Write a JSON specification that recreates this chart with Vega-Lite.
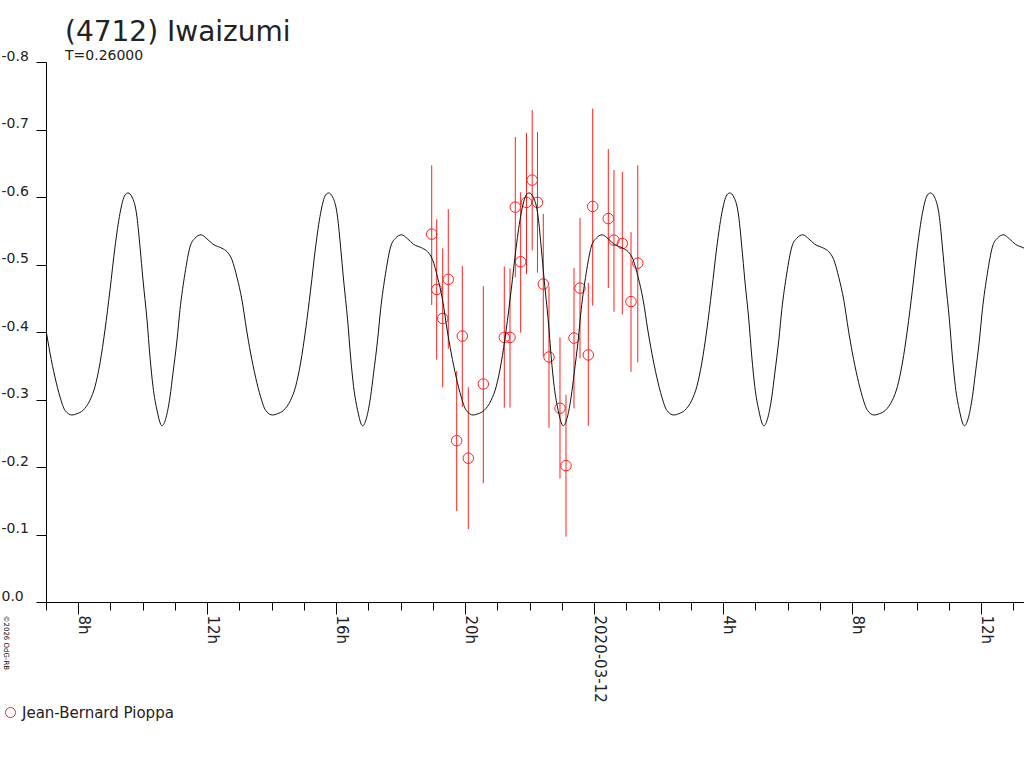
{
  "$schema": "https://vega.github.io/schema/vega-lite/v6.json",
  "width": 978,
  "height": 540,
  "autosize": {"type": "none"},
  "padding": {"left": 46, "top": 62, "right": 0, "bottom": 166},
  "background": "white",
  "config": {"view": {"stroke": null}, "font": "DejaVu Sans"},
  "title": {
    "text": "(4712) Iwaizumi",
    "subtitle": "T=0.26000",
    "anchor": "start",
    "frame": "group",
    "dx": 19,
    "offset": -14,
    "font": "DejaVu Sans",
    "fontSize": 28,
    "fontWeight": "normal",
    "color": "#222222",
    "subtitleFont": "DejaVu Sans",
    "subtitleFontSize": 14,
    "subtitleColor": "#222222",
    "subtitlePadding": 2
  },
  "datasets": {
    "obs": [
      {"hour": 18.960, "mag": -0.545, "mag_hi": -0.647, "mag_lo": -0.440},
      {"hour": 19.115, "mag": -0.463, "mag_hi": -0.567, "mag_lo": -0.359},
      {"hour": 19.301, "mag": -0.420, "mag_hi": -0.524, "mag_lo": -0.318},
      {"hour": 19.474, "mag": -0.478, "mag_hi": -0.582, "mag_lo": -0.375},
      {"hour": 19.735, "mag": -0.239, "mag_hi": -0.342, "mag_lo": -0.135},
      {"hour": 19.909, "mag": -0.394, "mag_hi": -0.498, "mag_lo": -0.289},
      {"hour": 20.095, "mag": -0.213, "mag_hi": -0.318, "mag_lo": -0.108},
      {"hour": 20.560, "mag": -0.323, "mag_hi": -0.468, "mag_lo": -0.176},
      {"hour": 21.211, "mag": -0.392, "mag_hi": -0.497, "mag_lo": -0.288},
      {"hour": 21.388, "mag": -0.392, "mag_hi": -0.494, "mag_lo": -0.288},
      {"hour": 21.552, "mag": -0.585, "mag_hi": -0.689, "mag_lo": -0.481},
      {"hour": 21.719, "mag": -0.504, "mag_hi": -0.607, "mag_lo": -0.399},
      {"hour": 21.899, "mag": -0.592, "mag_hi": -0.695, "mag_lo": -0.486},
      {"hour": 22.076, "mag": -0.625, "mag_hi": -0.729, "mag_lo": -0.521},
      {"hour": 22.240, "mag": -0.592, "mag_hi": -0.696, "mag_lo": -0.488},
      {"hour": 22.420, "mag": -0.471, "mag_hi": -0.575, "mag_lo": -0.364},
      {"hour": 22.597, "mag": -0.363, "mag_hi": -0.467, "mag_lo": -0.258},
      {"hour": 22.938, "mag": -0.287, "mag_hi": -0.392, "mag_lo": -0.183},
      {"hour": 23.124, "mag": -0.202, "mag_hi": -0.307, "mag_lo": -0.097},
      {"hour": 23.372, "mag": -0.391, "mag_hi": -0.495, "mag_lo": -0.287},
      {"hour": 23.558, "mag": -0.465, "mag_hi": -0.569, "mag_lo": -0.361},
      {"hour": 23.816, "mag": -0.366, "mag_hi": -0.473, "mag_lo": -0.261},
      {"hour": 23.952, "mag": -0.586, "mag_hi": -0.731, "mag_lo": -0.439},
      {"hour": 24.436, "mag": -0.568, "mag_hi": -0.671, "mag_lo": -0.465},
      {"hour": 24.612, "mag": -0.536, "mag_hi": -0.640, "mag_lo": -0.430},
      {"hour": 24.870, "mag": -0.531, "mag_hi": -0.637, "mag_lo": -0.426},
      {"hour": 25.140, "mag": -0.445, "mag_hi": -0.548, "mag_lo": -0.341},
      {"hour": 25.350, "mag": -0.502, "mag_hi": -0.647, "mag_lo": -0.355}
    ],
    "model": [
      {"hour": 7.000, "mag": -0.403}, {"hour": 7.124, "mag": -0.369}, {"hour": 7.279, "mag": -0.333}, {"hour": 7.434, "mag": -0.304},
      {"hour": 7.589, "mag": -0.284}, {"hour": 7.806, "mag": -0.277}, {"hour": 7.961, "mag": -0.279}, {"hour": 8.147, "mag": -0.284},
      {"hour": 8.364, "mag": -0.299}, {"hour": 8.519, "mag": -0.319}, {"hour": 8.674, "mag": -0.354}, {"hour": 8.829, "mag": -0.403},
      {"hour": 8.984, "mag": -0.462}, {"hour": 9.140, "mag": -0.526}, {"hour": 9.295, "mag": -0.576}, {"hour": 9.450, "mag": -0.603},
      {"hour": 9.543, "mag": -0.606}, {"hour": 9.667, "mag": -0.600}, {"hour": 9.822, "mag": -0.570}, {"hour": 9.915, "mag": -0.526},
      {"hour": 10.008, "mag": -0.477}, {"hour": 10.132, "mag": -0.418}, {"hour": 10.225, "mag": -0.363}, {"hour": 10.318, "mag": -0.319},
      {"hour": 10.442, "mag": -0.284}, {"hour": 10.597, "mag": -0.261}, {"hour": 10.721, "mag": -0.273}, {"hour": 10.845, "mag": -0.304},
      {"hour": 10.938, "mag": -0.339}, {"hour": 11.062, "mag": -0.388}, {"hour": 11.155, "mag": -0.433}, {"hour": 11.310, "mag": -0.487},
      {"hour": 11.465, "mag": -0.526}, {"hour": 11.620, "mag": -0.539}, {"hour": 11.806, "mag": -0.544}, {"hour": 11.992, "mag": -0.538},
      {"hour": 12.178, "mag": -0.530}, {"hour": 12.457, "mag": -0.524}, {"hour": 12.612, "mag": -0.519}, {"hour": 12.767, "mag": -0.507},
      {"hour": 12.922, "mag": -0.481}, {"hour": 13.078, "mag": -0.447},
      {"hour": 13.220, "mag": -0.403}, {"hour": 13.344, "mag": -0.369}, {"hour": 13.499, "mag": -0.333}, {"hour": 13.654, "mag": -0.304},
      {"hour": 13.809, "mag": -0.284}, {"hour": 14.026, "mag": -0.277}, {"hour": 14.181, "mag": -0.279}, {"hour": 14.367, "mag": -0.284},
      {"hour": 14.584, "mag": -0.299}, {"hour": 14.739, "mag": -0.319}, {"hour": 14.894, "mag": -0.354}, {"hour": 15.049, "mag": -0.403},
      {"hour": 15.204, "mag": -0.462}, {"hour": 15.360, "mag": -0.526}, {"hour": 15.515, "mag": -0.576}, {"hour": 15.670, "mag": -0.603},
      {"hour": 15.763, "mag": -0.606}, {"hour": 15.887, "mag": -0.600}, {"hour": 16.042, "mag": -0.570}, {"hour": 16.135, "mag": -0.526},
      {"hour": 16.228, "mag": -0.477}, {"hour": 16.352, "mag": -0.418}, {"hour": 16.445, "mag": -0.363}, {"hour": 16.538, "mag": -0.319},
      {"hour": 16.662, "mag": -0.284}, {"hour": 16.817, "mag": -0.261}, {"hour": 16.941, "mag": -0.273}, {"hour": 17.065, "mag": -0.304},
      {"hour": 17.158, "mag": -0.339}, {"hour": 17.282, "mag": -0.388}, {"hour": 17.375, "mag": -0.433}, {"hour": 17.530, "mag": -0.487},
      {"hour": 17.685, "mag": -0.526}, {"hour": 17.840, "mag": -0.539}, {"hour": 18.026, "mag": -0.544}, {"hour": 18.212, "mag": -0.538},
      {"hour": 18.398, "mag": -0.530}, {"hour": 18.677, "mag": -0.524}, {"hour": 18.832, "mag": -0.519}, {"hour": 18.987, "mag": -0.507},
      {"hour": 19.142, "mag": -0.481}, {"hour": 19.298, "mag": -0.447},
      {"hour": 19.440, "mag": -0.403}, {"hour": 19.564, "mag": -0.369}, {"hour": 19.719, "mag": -0.333}, {"hour": 19.874, "mag": -0.304},
      {"hour": 20.029, "mag": -0.284}, {"hour": 20.246, "mag": -0.277}, {"hour": 20.401, "mag": -0.279}, {"hour": 20.587, "mag": -0.284},
      {"hour": 20.804, "mag": -0.299}, {"hour": 20.959, "mag": -0.319}, {"hour": 21.114, "mag": -0.354}, {"hour": 21.269, "mag": -0.403},
      {"hour": 21.424, "mag": -0.462}, {"hour": 21.580, "mag": -0.526}, {"hour": 21.735, "mag": -0.576}, {"hour": 21.890, "mag": -0.603},
      {"hour": 21.983, "mag": -0.606}, {"hour": 22.107, "mag": -0.600}, {"hour": 22.262, "mag": -0.570}, {"hour": 22.355, "mag": -0.526},
      {"hour": 22.448, "mag": -0.477}, {"hour": 22.572, "mag": -0.418}, {"hour": 22.665, "mag": -0.363}, {"hour": 22.758, "mag": -0.319},
      {"hour": 22.882, "mag": -0.284}, {"hour": 23.037, "mag": -0.261}, {"hour": 23.161, "mag": -0.273}, {"hour": 23.285, "mag": -0.304},
      {"hour": 23.378, "mag": -0.339}, {"hour": 23.502, "mag": -0.388}, {"hour": 23.595, "mag": -0.433}, {"hour": 23.750, "mag": -0.487},
      {"hour": 23.905, "mag": -0.526}, {"hour": 24.060, "mag": -0.539}, {"hour": 24.246, "mag": -0.544}, {"hour": 24.432, "mag": -0.538},
      {"hour": 24.618, "mag": -0.530}, {"hour": 24.897, "mag": -0.524}, {"hour": 25.052, "mag": -0.519}, {"hour": 25.207, "mag": -0.507},
      {"hour": 25.362, "mag": -0.481}, {"hour": 25.518, "mag": -0.447},
      {"hour": 25.661, "mag": -0.403}, {"hour": 25.785, "mag": -0.369}, {"hour": 25.940, "mag": -0.333}, {"hour": 26.095, "mag": -0.304},
      {"hour": 26.250, "mag": -0.284}, {"hour": 26.467, "mag": -0.277}, {"hour": 26.622, "mag": -0.279}, {"hour": 26.808, "mag": -0.284},
      {"hour": 27.025, "mag": -0.299}, {"hour": 27.180, "mag": -0.319}, {"hour": 27.335, "mag": -0.354}, {"hour": 27.490, "mag": -0.403},
      {"hour": 27.645, "mag": -0.462}, {"hour": 27.801, "mag": -0.526}, {"hour": 27.956, "mag": -0.576}, {"hour": 28.111, "mag": -0.603},
      {"hour": 28.204, "mag": -0.606}, {"hour": 28.328, "mag": -0.600}, {"hour": 28.483, "mag": -0.570}, {"hour": 28.576, "mag": -0.526},
      {"hour": 28.669, "mag": -0.477}, {"hour": 28.793, "mag": -0.418}, {"hour": 28.886, "mag": -0.363}, {"hour": 28.979, "mag": -0.319},
      {"hour": 29.103, "mag": -0.284}, {"hour": 29.258, "mag": -0.261}, {"hour": 29.382, "mag": -0.273}, {"hour": 29.506, "mag": -0.304},
      {"hour": 29.599, "mag": -0.339}, {"hour": 29.723, "mag": -0.388}, {"hour": 29.816, "mag": -0.433}, {"hour": 29.971, "mag": -0.487},
      {"hour": 30.126, "mag": -0.526}, {"hour": 30.281, "mag": -0.539}, {"hour": 30.467, "mag": -0.544}, {"hour": 30.653, "mag": -0.538},
      {"hour": 30.839, "mag": -0.530}, {"hour": 31.118, "mag": -0.524}, {"hour": 31.273, "mag": -0.519}, {"hour": 31.428, "mag": -0.507},
      {"hour": 31.583, "mag": -0.481}, {"hour": 31.739, "mag": -0.447},
      {"hour": 31.881, "mag": -0.403}, {"hour": 32.005, "mag": -0.369}, {"hour": 32.160, "mag": -0.333}, {"hour": 32.315, "mag": -0.304},
      {"hour": 32.470, "mag": -0.284}, {"hour": 32.687, "mag": -0.277}, {"hour": 32.842, "mag": -0.279}, {"hour": 33.028, "mag": -0.284},
      {"hour": 33.245, "mag": -0.299}, {"hour": 33.400, "mag": -0.319}, {"hour": 33.555, "mag": -0.354}, {"hour": 33.710, "mag": -0.403},
      {"hour": 33.865, "mag": -0.462}, {"hour": 34.021, "mag": -0.526}, {"hour": 34.176, "mag": -0.576}, {"hour": 34.331, "mag": -0.603},
      {"hour": 34.424, "mag": -0.606}, {"hour": 34.548, "mag": -0.600}, {"hour": 34.703, "mag": -0.570}, {"hour": 34.796, "mag": -0.526},
      {"hour": 34.889, "mag": -0.477}, {"hour": 35.013, "mag": -0.418}, {"hour": 35.106, "mag": -0.363}, {"hour": 35.199, "mag": -0.319},
      {"hour": 35.323, "mag": -0.284}, {"hour": 35.478, "mag": -0.261}, {"hour": 35.602, "mag": -0.273}, {"hour": 35.726, "mag": -0.304},
      {"hour": 35.819, "mag": -0.339}, {"hour": 35.943, "mag": -0.388}, {"hour": 36.036, "mag": -0.433}, {"hour": 36.191, "mag": -0.487},
      {"hour": 36.346, "mag": -0.526}, {"hour": 36.501, "mag": -0.539}, {"hour": 36.687, "mag": -0.544}, {"hour": 36.873, "mag": -0.538},
      {"hour": 37.059, "mag": -0.530}, {"hour": 37.338, "mag": -0.524}, {"hour": 37.493, "mag": -0.519}
    ]
  },
  "encoding": {
    "x": {
      "field": "hour",
      "type": "quantitative",
      "title": null,
      "scale": {"domain": [7, 37.326], "nice": false, "zero": false},
      "axis": {
        "values": [7, 8, 9, 10, 11, 12, 13, 14, 15, 16, 17, 18, 19, 20, 21, 22, 23, 24, 25, 26, 27, 28, 29, 30, 31, 32, 33, 34, 35, 36, 37],
        "labelExpr": "datum.value % 24 == 0 ? '2020-03-12' : (datum.value % 4 == 0 ? (datum.value % 24) + 'h' : '')",
        "labelAngle": 90,
        "labelAlign": "left",
        "labelBaseline": "alphabetic",
        "labelFont": "DejaVu Sans",
        "labelFontSize": 15,
        "labelColor": "#222222",
        "labelPadding": 1,
        "labelOverlap": false,
        "labelFlush": false,
        "tickSize": {"condition": {"test": "datum.value % 4 == 0", "value": 12}, "value": 8},
        "tickColor": "#000000",
        "domainColor": "#000000",
        "grid": false
      }
    },
    "y": {
      "field": "mag",
      "type": "quantitative",
      "scale": {"domain": [0, -0.8], "nice": false, "zero": false},
      "axis": {
        "values": [-0.8, -0.7, -0.6, -0.5, -0.4, -0.3, -0.2, -0.1, 0],
        "labelExpr": "(datum.value < -0.001 ? '-' : '') + format(abs(datum.value), '.1f')",
        "labelAlign": "left",
        "labelBaseline": "alphabetic",
        "labelPadding": 35,
        "labelOffset": -2,
        "labelFont": "DejaVu Sans",
        "labelFontSize": 14,
        "labelColor": "#222222",
        "tickSize": 10,
        "tickColor": "#000000",
        "domainColor": "#000000",
        "grid": false,
        "title": "©2026 OdG-RB",
        "titleAngle": 90,
        "titleFont": "DejaVu Sans",
        "titleFontSize": 7,
        "titleFontWeight": "normal",
        "titleColor": "#000000",
        "titleAlign": "left",
        "titleBaseline": "middle",
        "titleX": -41,
        "titleY": 553
      }
    }
  },
  "layer": [
    {
      "data": {"name": "obs"},
      "mark": {"type": "rule", "color": "#ff2020", "strokeWidth": 1},
      "encoding": {
        "y": {"field": "mag_lo", "type": "quantitative", "title": "©2026 OdG-RB"},
        "y2": {"field": "mag_hi"}
      }
    },
    {
      "data": {"name": "obs"},
      "mark": {"type": "point", "shape": "circle", "filled": false, "size": 110, "strokeWidth": 1, "opacity": 1},
      "encoding": {
        "color": {
          "datum": "Jean-Bernard Pioppa",
          "type": "nominal",
          "scale": {"range": ["#ff2020"]},
          "legend": {
            "orient": "none",
            "legendX": -43,
            "legendY": 643,
            "title": null,
            "symbolType": "circle",
            "symbolSize": 100,
            "symbolFillColor": "transparent",
            "symbolStrokeWidth": 1,
            "labelFont": "DejaVu Sans",
            "labelFontSize": 15,
            "labelColor": "#222222",
            "labelOffset": 4
          }
        }
      }
    },
    {
      "data": {"name": "model"},
      "mark": {"type": "line", "color": "#111111", "strokeWidth": 1, "interpolate": "monotone", "clip": true}
    }
  ]
}
